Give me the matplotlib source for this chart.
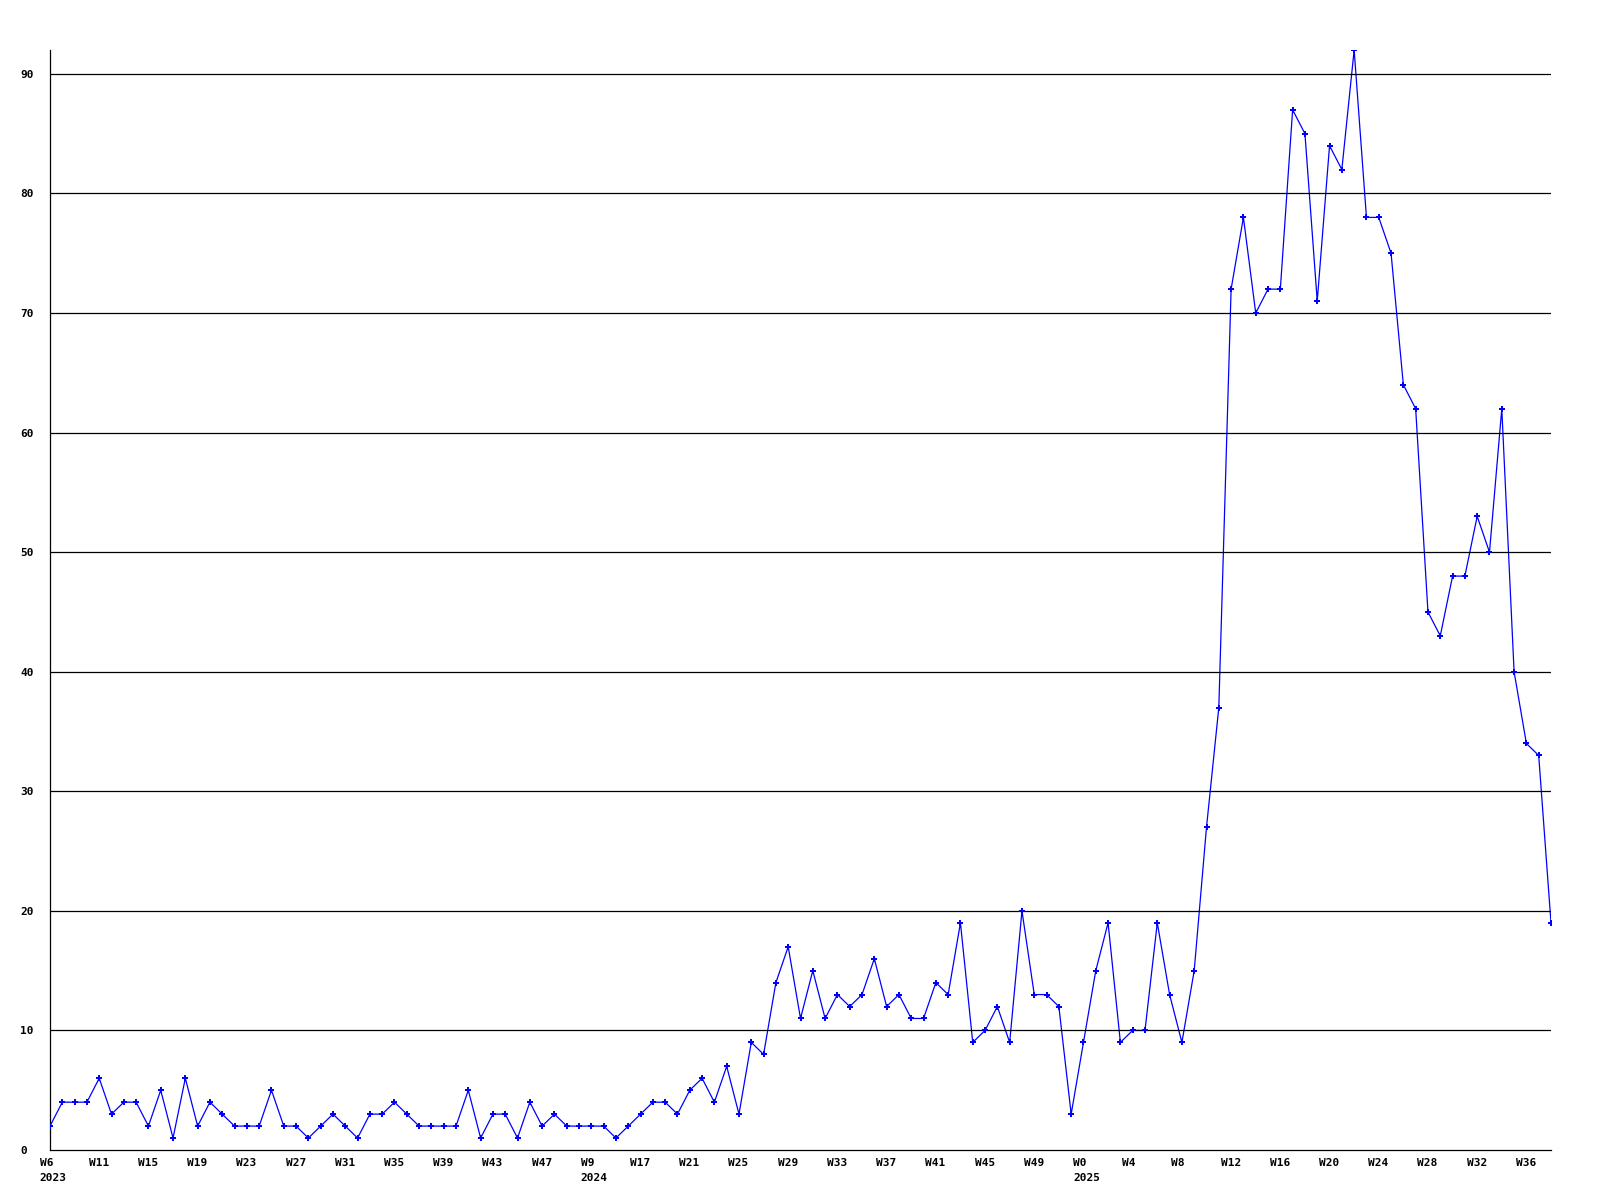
import matplotlib
matplotlib.use("Agg")
import matplotlib.pyplot as plt
import matplotlib.transforms as mtransforms

values = [2, 4, 4, 4, 6, 3, 4, 4, 2, 5, 1, 6, 2, 4, 3, 2, 2, 2, 5, 2, 2, 1, 2, 3,
          2, 1, 3, 3, 4, 3, 2, 2, 2, 2, 5, 1, 3, 3, 1, 4, 2, 3, 2, 2, 2, 2, 1, 2,
          3, 4, 4, 3, 5, 6, 4, 7, 3, 9, 8, 14, 17, 11, 15, 11, 13, 12, 13, 16, 12, 13, 11, 11, 14, 13, 19, 9,
          10, 12, 9, 20, 13, 13, 12, 3, 9, 15, 19, 9, 10, 10, 19, 13, 9, 15, 27, 37,
          72, 78, 70, 72, 72, 87, 85, 71, 84, 82, 92, 78, 78, 75, 64, 62, 45, 43, 48, 48, 53, 50, 62, 40, 34, 33, 19]

week_labels = ["W6", "W11", "W15", "W19", "W23", "W27", "W31", "W35", "W39", "W43", "W47",
               "W9", "W17", "W21", "W25", "W29", "W33", "W37", "W41", "W45", "W49",
               "W0", "W4", "W8", "W12", "W16", "W20", "W24", "W28", "W32", "W36"]
label_step = 4
year_labels = {"W6": "2023", "W9": "2024", "W0": "2025"}
y_ticks = [0, 10, 20, 30, 40, 50, 60, 70, 80, 90]

font = dict(family="DejaVu Sans Mono", weight="bold", size=8)

fig = plt.figure(figsize=(16, 12), dpi=100)
ax = fig.add_axes([50 / 1600, 1 - 1150 / 1200, 1501 / 1600, 1100 / 1200])

x = list(range(len(values)))
ax.plot(x, values, color="#0000ff", linewidth=0.9, zorder=2)
ax.plot(x, values, linestyle="none", marker="P", markersize=4, color="#0000ff",
        markeredgewidth=0, zorder=4)

ax.set_xlim(0, len(values) - 1)
ax.set_ylim(0, 92)

for t in y_ticks[1:]:
    ax.axhline(t, color="black", linewidth=0.9, zorder=3)

for s in ["top", "right"]:
    ax.spines[s].set_visible(False)
for s in ["left", "bottom"]:
    ax.spines[s].set_linewidth(0.9)
    ax.spines[s].set_color("black")

ax.set_yticks(y_ticks)
ax.set_yticklabels([str(t) for t in y_ticks], ha="left", **font)
ax.tick_params(axis="y", length=0, pad=21.6)

xpos = [i * label_step for i in range(len(week_labels))]
ax.set_xticks(xpos)
ax.set_xticklabels(week_labels, ha="left", **font)
ax.tick_params(axis="x", length=0, pad=5.5)

shift = mtransforms.ScaledTranslation(-10.5 / 100, 0, fig.dpi_scale_trans)
for lbl in ax.get_xticklabels():
    lbl.set_transform(lbl.get_transform() + shift)

for pos, lab in zip(xpos, week_labels):
    if lab in year_labels:
        ax.annotate(year_labels[lab], xy=(pos, 0), xycoords=("data", "axes fraction"),
                    xytext=(-10.5, -23), textcoords="offset pixels",
                    ha="left", va="top", annotation_clip=False, **font)

fig.savefig("out.png", dpi=100)
